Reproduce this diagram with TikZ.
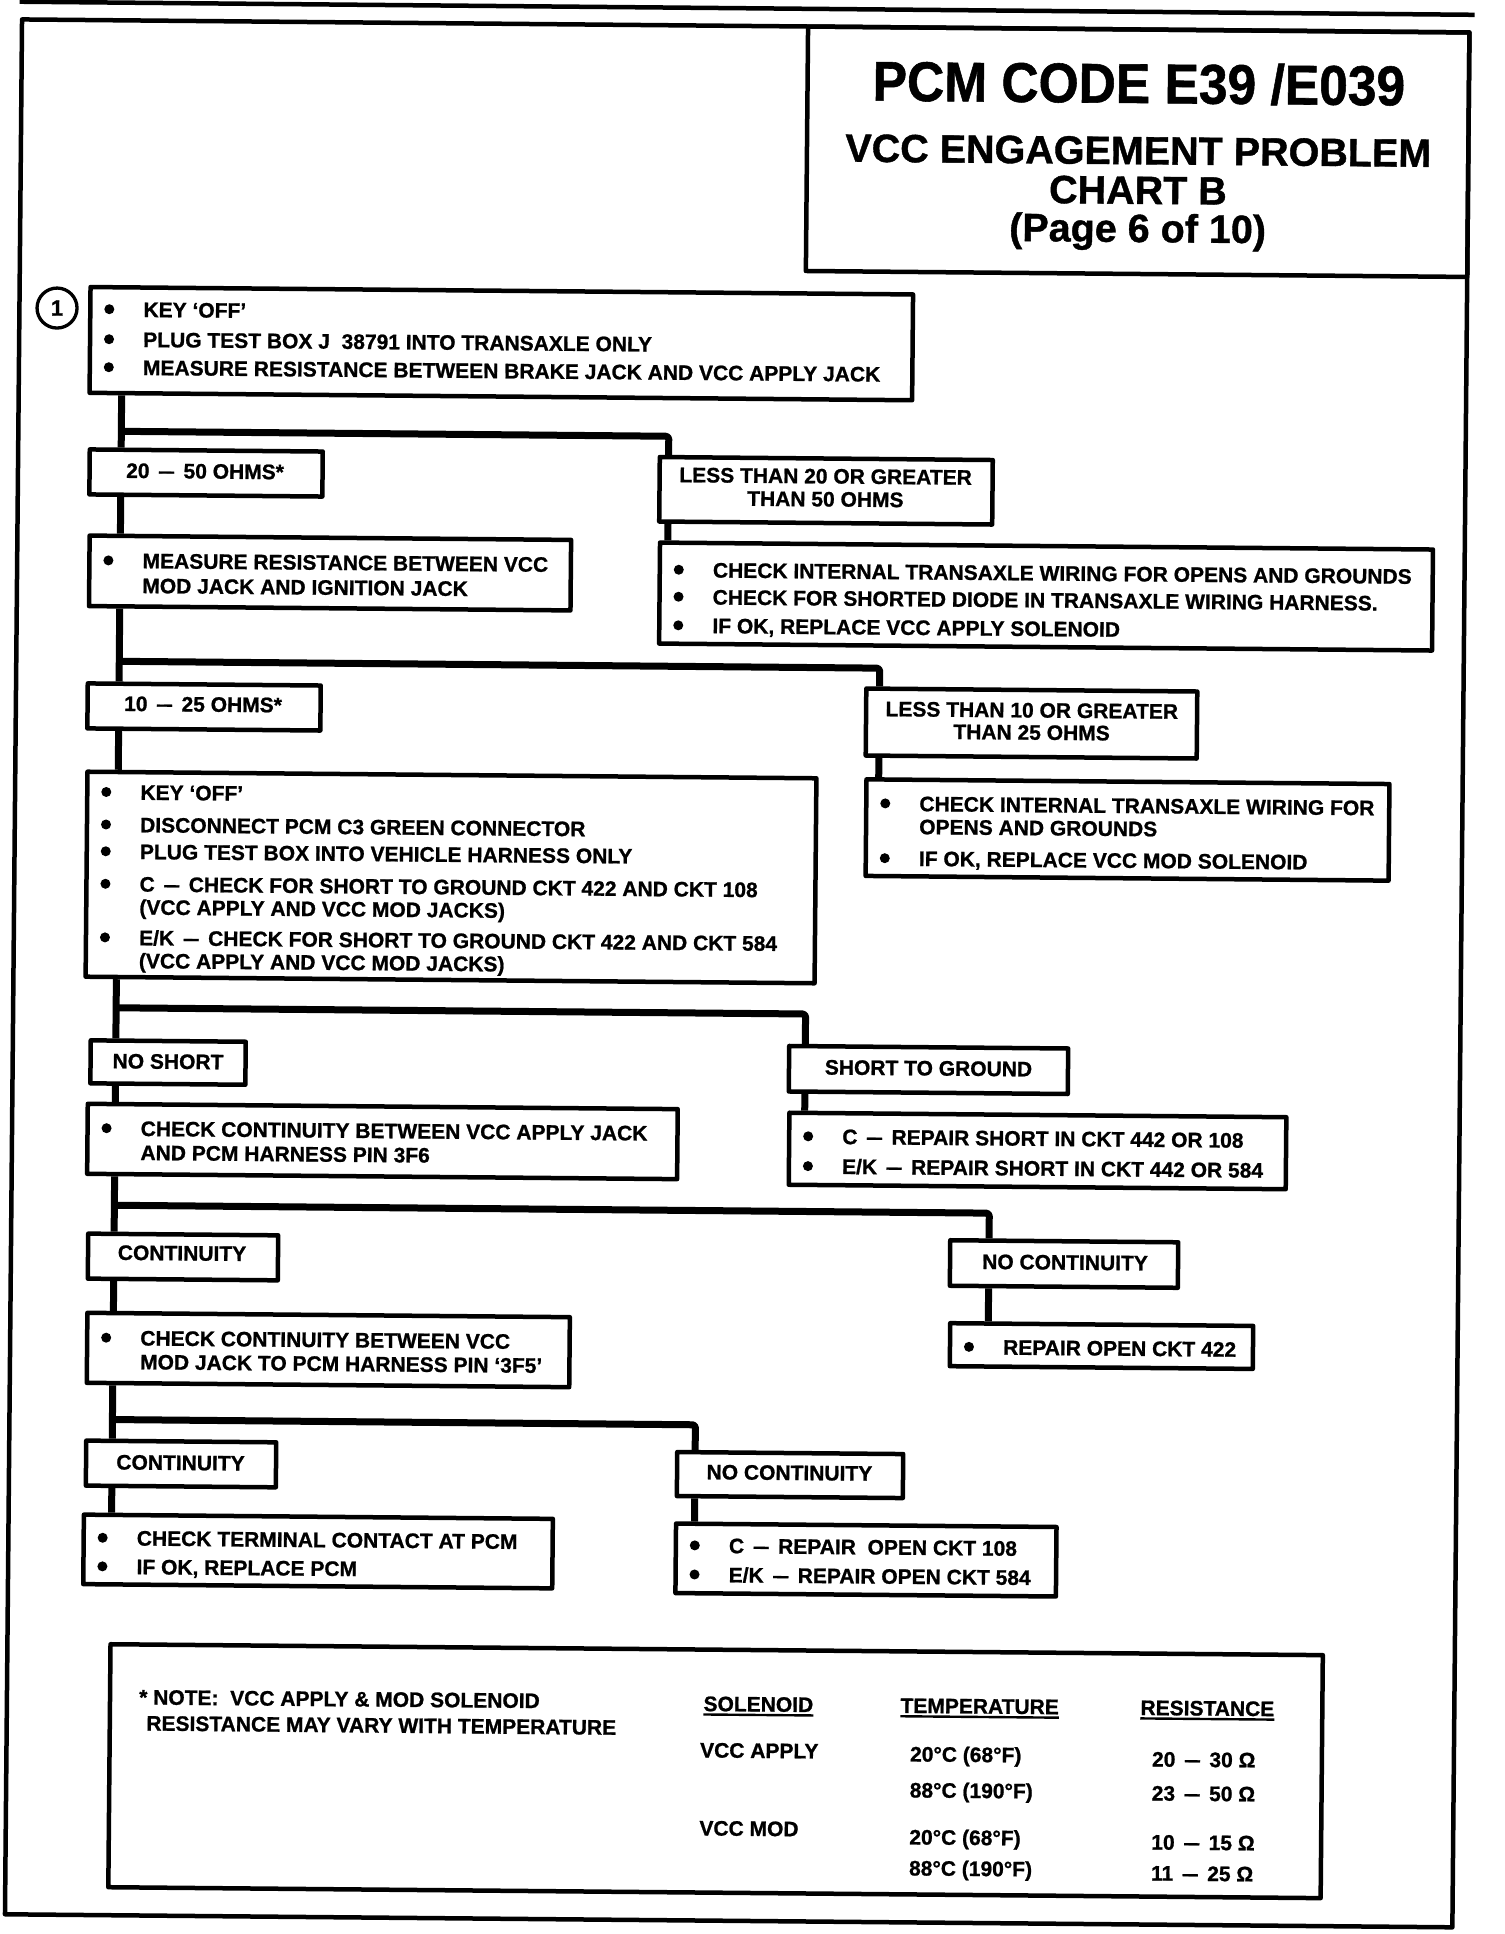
\documentclass[tikz,border=0pt]{standalone}
\usepackage{fontspec}
\setmainfont{Liberation Sans}[BoldFeatures={FakeBold=1}]
\usepackage{graphicx}
\newcommand\dsh{\hspace{0.45em}\scalebox{0.72}[1]{—}\hspace{0.45em}}
% box: name, cx, cy, w, h
\newcommand\Bx[5]{\node[box,minimum width=#4pt,minimum height=#5pt] (#1) at (#2,#3) {};}
% bullet line: name, box-left, centre y, text
\newcommand\Bl[4]{\fill ({#2+19},#3) circle[radius=5pt];\node[txt] (#1) at ({#2+53},{#3+7.5}) {#4};}
% continuation line: name, box-left, centre y, text
\newcommand\Tl[4]{\node[txt] (#1) at ({#2+53},{#3+7.5}) {#4};}
% centred line: name, cx, centre y, text
\newcommand\Ct[4]{\node[txtc] (#1) at (#2,{#3+7.5}) {#4};}
% plain line at x: name, x, centre y, text
\newcommand\Pl[4]{\node[txt] (#1) at (#2,{#3+7.5}) {#4};}
\begin{document}
\begin{tikzpicture}[x=1pt,y=-1pt,
  box/.style={draw,line width=4.5pt,inner sep=0pt,line join=round},
  conn/.style={line width=7pt,line join=round,rounded corners=3pt},
  txt/.style={inner sep=0pt,anchor=base west,font=\fontsize{21}{25}\selectfont\bfseries},
  txtc/.style={txt,anchor=base},
  ttl/.style={inner sep=0pt,anchor=base,font=\fontsize{39.5}{42}\selectfont\bfseries}]
\fill[white] (0,0) rectangle (1504,1934);
\useasboundingbox (0,0) rectangle (1504,1934);
\begin{scope}[transform canvas={rotate around={-0.516:(752,967)}}]
% frame
\draw[line width=4.5pt] (11,8.3) -- (1466,8.3);
\draw[line width=4.5pt,line join=round] (13.5,26) rectangle (1461,1921);
% title
\Bx{title}{1130.3}{148.25}{661.4}{244.5}
\node[inner sep=0pt,anchor=base,font=\fontsize{56}{60}\selectfont\bfseries] (t1) at (1131,99.5) {\scalebox{0.92}[1]{PCM CODE E39 /E039}};
\node[ttl] (t2) at (1131,160.8) {VCC ENGAGEMENT PROBLEM};
\node[ttl] (t3) at (1131,200.4) {CHART B};
\node[ttl] (t4) at (1131,238.6) {(Page 6 of 10)};
% step marker
\node[draw,circle,line width=3.3pt,minimum size=40pt,inner sep=0pt,font=\fontsize{22}{24}\selectfont\bfseries] (c1) at (51.1,314.3) {1};
% boxes
\Bx{b1}{495.7}{345.9}{822.6}{105.8}
\Bx{b2050}{201.6}{477.9}{233}{45}
\Bx{bless20}{821.7}{490.1}{333}{64.5}
\Bx{bmeas}{326.5}{576.8}{481.5}{70.5}
\Bx{bcheck1}{1042.7}{593.9}{773}{101}
\Bx{b1025}{201.7}{711.9}{233}{45}
\Bx{bless10}{1029.3}{721}{331}{67}
\Bx{bcheck2}{1126.3}{826.6}{523}{96.6}
\Bx{bkey}{450.2}{880.2}{729}{205}
\Bx{bnoshort}{168.9}{1067.8}{155}{43}
\Bx{bshort}{929.4}{1068.4}{279}{45.5}
\Bx{brepshort}{1039.2}{1148.4}{497}{72}
\Bx{bcc1}{384}{1144.8}{590}{70}
\Bx{bcont1}{185.6}{1262.1}{190}{45}
\Bx{bnocont1}{1066.7}{1261.2}{228}{45.5}
\Bx{brep422}{1104.9}{1342.9}{303}{43}
\Bx{bcc2}{331.75}{1353.8}{482.5}{70}
\Bx{bcont2}{185.5}{1469.1}{190}{45}
\Bx{bnocont2}{794.6}{1474.7}{226}{44}
\Bx{bterm}{323.3}{1555.4}{469}{69.5}
\Bx{brepopen}{871.3}{1559}{380.5}{69.5}
\Bx{note}{722.8}{1771.5}{1212.4}{243}
% connector guides
\coordinate (T) at (116.5,0);
\coordinate (V1) at (664,0);
\coordinate (V2) at (877,0);
\coordinate (V3) at (806,0);
\coordinate (V4) at (991.5,0);
\coordinate (V5) at (699.5,0);
\coordinate (J1) at (116.5,437);
\coordinate (J2) at (116.5,667);
\coordinate (J3) at (116.5,1013.5);
\coordinate (J4) at (116.5,1211);
\coordinate (J5) at (116.5,1425.3);
% trunk
\draw[conn] (b1.south -| T) -- (b2050.north -| T);
\draw[conn] (b2050.south -| T) -- (bmeas.north -| T);
\draw[conn] (bmeas.south -| T) -- (b1025.north -| T);
\draw[conn] (b1025.south -| T) -- (bkey.north -| T);
\draw[conn] (bkey.south -| T) -- (bnoshort.north -| T);
\draw[conn] (bnoshort.south -| T) -- (bcc1.north -| T);
\draw[conn] (bcc1.south -| T) -- (bcont1.north -| T);
\draw[conn] (bcont1.south -| T) -- (bcc2.north -| T);
\draw[conn] (bcc2.south -| T) -- (bcont2.north -| T);
\draw[conn] (bcont2.south -| T) -- (bterm.north -| T);
% branches
\draw[conn] (J1) -| (bless20.north -| V1);
\draw[conn] (bless20.south -| V1) -- (bcheck1.north -| V1);
\draw[conn] (J2) -| (bless10.north -| V2);
\draw[conn] (bless10.south -| V2) -- (bcheck2.north -| V2);
\draw[conn] (J3) -| (bshort.north -| V3);
\draw[conn] (bshort.south -| V3) -- (brepshort.north -| V3);
\draw[conn] (J4) -| (bnocont1.north -| V4);
\draw[conn] (bnocont1.south -| V4) -- (brep422.north -| V4);
\draw[conn] (J5) -| (bnocont2.north -| V5);
\draw[conn] (bnocont2.south -| V5) -- (brepopen.north -| V5);
% texts
\Bl{l11}{84.4}{315}{KEY ‘OFF’}
\Bl{l12}{84.4}{345}{PLUG TEST BOX J\ \ 38791 INTO TRANSAXLE ONLY}
\Bl{l13}{84.4}{373}{MEASURE RESISTANCE BETWEEN BRAKE JACK AND VCC APPLY JACK}
\Ct{x1}{200.6}{476}{20\dsh 50 OHMS*}
\Ct{x2a}{821.2}{475.3}{LESS THAN 20 OR GREATER}
\Ct{x2b}{821.2}{498.3}{THAN 50 OHMS}
\Bl{l21}{85.75}{566.2}{MEASURE RESISTANCE BETWEEN VCC}
\Tl{l22}{85.75}{591.1}{MOD JACK AND IGNITION JACK}
\Bl{l31}{656.2}{570.4}{CHECK INTERNAL TRANSAXLE WIRING FOR OPENS AND GROUNDS}
\Bl{l32}{656.2}{597.4}{CHECK FOR SHORTED DIODE IN TRANSAXLE WIRING HARNESS.}
\Bl{l33}{656.2}{626}{IF OK, REPLACE VCC APPLY SOLENOID}
\Ct{x3}{200.7}{709.1}{10\dsh 25 OHMS*}
\Ct{x4a}{1029.5}{707.5}{LESS THAN 10 OR GREATER}
\Ct{x4b}{1029.5}{729.7}{THAN 25 OHMS}
\Bl{l41}{864.8}{802.2}{CHECK INTERNAL TRANSAXLE WIRING FOR}
\Tl{l42}{864.8}{825.2}{OPENS AND GROUNDS}
\Bl{l43}{864.8}{857}{IF OK, REPLACE VCC MOD SOLENOID}
\Bl{l51}{85.7}{797.8}{KEY ‘OFF’}
\Bl{l52}{85.7}{830.3}{DISCONNECT PCM C3 GREEN CONNECTOR}
\Bl{l53}{85.7}{857.1}{PLUG TEST BOX INTO VEHICLE HARNESS ONLY}
\Bl{l54}{85.7}{889.6}{C\dsh CHECK FOR SHORT TO GROUND CKT 422 AND CKT 108}
\Tl{l55}{85.7}{912.6}{(VCC APPLY AND VCC MOD JACKS)}
\Bl{l56}{85.7}{943.2}{E/K\dsh CHECK FOR SHORT TO GROUND CKT 422 AND CKT 584}
\Tl{l57}{85.7}{966.2}{(VCC APPLY AND VCC MOD JACKS)}
\Ct{x5}{168.9}{1066.6}{NO SHORT}
\Ct{x6}{929.4}{1066.4}{SHORT TO GROUND}
\Bl{l61}{89}{1134}{CHECK CONTINUITY BETWEEN VCC APPLY JACK}
\Tl{l62}{89}{1158}{AND PCM HARNESS PIN 3F6}
\Bl{l71}{790.7}{1135.8}{C\dsh REPAIR SHORT IN CKT 442 OR 108}
\Bl{l72}{790.7}{1165.6}{E/K\dsh REPAIR SHORT IN CKT 442 OR 584}
\Ct{x7}{184.6}{1258.1}{CONTINUITY}
\Ct{x8}{1067.7}{1259.4}{NO CONTINUITY}
\Bl{l81}{953.4}{1344.9}{REPAIR OPEN CKT 422}
\Bl{l91}{90.5}{1343.5}{CHECK CONTINUITY BETWEEN VCC}
\Tl{l92}{90.5}{1367.3}{MOD JACK TO PCM HARNESS PIN ‘3F5’}
\Ct{x9}{185}{1467.7}{CONTINUITY}
\Ct{x10}{794}{1472.2}{NO CONTINUITY}
\Bl{la1}{88.8}{1543.6}{CHECK TERMINAL CONTACT AT PCM}
\Bl{la2}{88.8}{1572.2}{IF OK, REPLACE PCM}
\Bl{lb1}{681}{1545.9}{C\dsh REPAIR\ \ OPEN CKT 108}
\Bl{lb2}{681}{1575}{E/K\dsh REPAIR OPEN CKT 584}
% note
\Pl{n1}{145.6}{1702.5}{* NOTE:\ \ VCC APPLY \& MOD SOLENOID}
\Pl{n2}{153}{1728.5}{RESISTANCE MAY VARY WITH TEMPERATURE}
\Pl{h1}{710}{1704}{SOLENOID}
\Pl{h2}{907}{1704}{TEMPERATURE}
\Pl{h3}{1147}{1704}{RESISTANCE}
\draw[line width=2.4pt] ([yshift=-3pt]h1.south west) -- ([yshift=-3pt]h1.south east);
\draw[line width=2.4pt] ([yshift=-3pt]h2.south west) -- ([yshift=-3pt]h2.south east);
\draw[line width=2.4pt] ([yshift=-3pt]h3.south west) -- ([yshift=-3pt]h3.south east);
\Pl{r1}{707}{1750.4}{VCC APPLY}
\Pl{r2}{707}{1828.4}{VCC MOD}
\Pl{p1}{917}{1752.5}{20°C (68°F)}
\Pl{p2}{917}{1788.5}{88°C (190°F)}
\Pl{p3}{917}{1835.5}{20°C (68°F)}
\Pl{p4}{917}{1866.5}{88°C (190°F)}
\Pl{q1}{1159}{1755.4}{20\dsh 30 Ω}
\Pl{q2}{1159}{1789.4}{23\dsh 50 Ω}
\Pl{q3}{1159}{1838.4}{10\dsh 15 Ω}
\Pl{q4}{1159}{1869.4}{11\dsh 25 Ω}
\end{scope}
\end{tikzpicture}
\end{document}
